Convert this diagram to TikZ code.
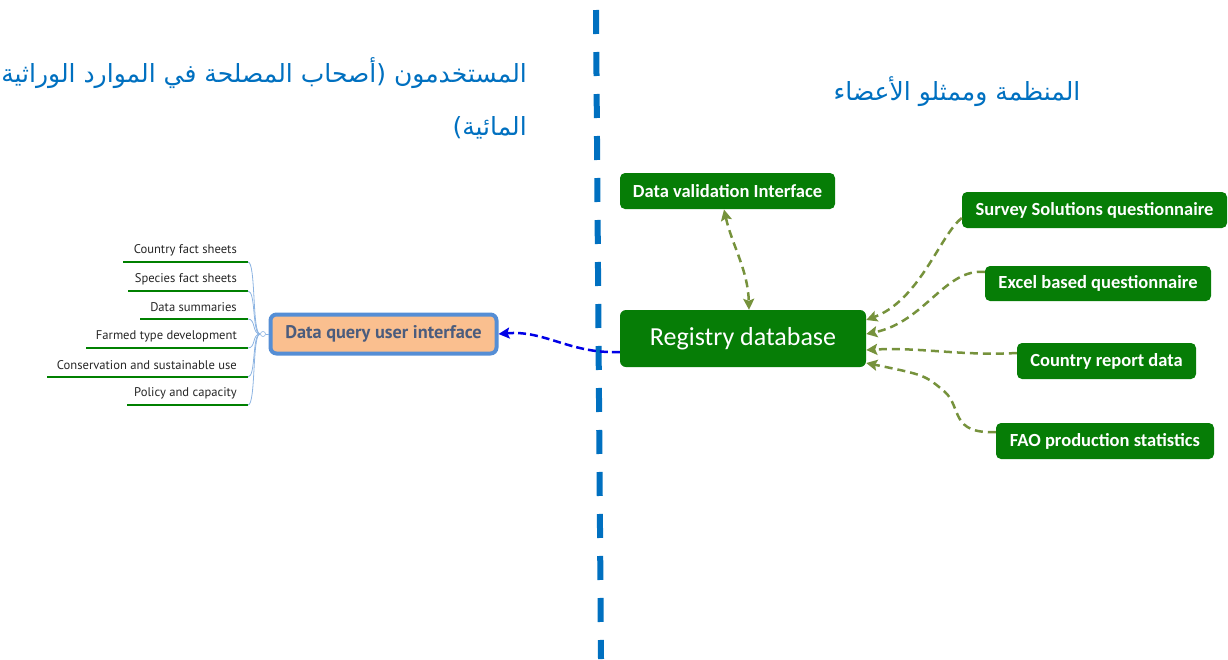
\documentclass[tikz,border=0pt]{standalone}
\usepackage{fontspec}
\usetikzlibrary{arrows.meta,calc}
\TeXXeTstate=1
\newfontfamily\arabicfont[Script=Arabic]{DejaVu Sans}
\newfontfamily\nodefont{Carlito}
\newfontfamily\leaffont{PT Sans}
\definecolor{dgreen}{RGB}{6,125,6}
\definecolor{olive}{RGB}{118,146,60}
\definecolor{vblue}{RGB}{0,112,192}
\definecolor{abblue}{RGB}{0,112,192}
\definecolor{arrblue}{RGB}{0,0,230}
\definecolor{lblue}{RGB}{141,180,226}
\definecolor{dqborder}{RGB}{85,142,213}
\definecolor{dqfill}{RGB}{250,191,143}
\definecolor{dqtext}{RGB}{75,92,125}
\definecolor{lgreen}{RGB}{0,128,0}
\begin{document}
\begin{tikzpicture}[x=1pt,y=-1pt,
  gbox/.style={draw=none,fill=dgreen,rounded corners=5pt,text=white,font=\nodefont\bfseries\fontsize{18.5}{21}\selectfont,inner sep=0pt},
  leaf/.style={anchor=east,font=\leaffont\fontsize{12.6}{15}\selectfont,inner sep=0pt,text=black!85},
  uline/.style={draw=lgreen,line width=2.5pt},
  bcurve/.style={draw=lblue,line width=0.8pt},
  oarrow/.style={draw=olive,line width=2.5pt,dash pattern=on 8pt off 5pt,-{Stealth[length=11pt,width=11pt,inset=2pt]}},
  oarrowb/.style={draw=olive,line width=2.5pt,dash pattern=on 8pt off 5pt,{Stealth[length=11pt,width=11pt,inset=2pt]}-{Stealth[length=11pt,width=11pt,inset=2pt]}},
  atitle/.style={text=abblue,font=\arabicfont\fontsize{25}{30}\selectfont,inner sep=0pt},
]
\useasboundingbox (0,0) rectangle (1228,659);
% vertical divider
\draw[vblue,line width=6pt,dash pattern=on 24pt off 18pt] (596,10) -- (601,659);
% titles
\node[atitle,anchor=east] (t1) at (527,73) {\beginR المستخدمون (أصحاب المصلحة في الموارد الوراثية\endR};
\node[atitle,anchor=east] (t2) at (527,128) {\beginR المائية)\endR};
\node[atitle] (t3) at (957,92) {\beginR المنظمة وممثلو الأعضاء\endR};
% green nodes
\node[gbox,minimum width=215pt,minimum height=36pt] (dv) at (727.5,191) {Data validation Interface};
\node[gbox,minimum width=246pt,minimum height=57pt,font=\nodefont\fontsize{26}{29}\selectfont,rounded corners=6pt] (reg) at (743,338.5) {Registry database};
\node[gbox,minimum width=265pt,minimum height=36pt] (sv) at (1094.5,210) {Survey Solutions questionnaire};
\node[gbox,minimum width=226pt,minimum height=35pt] (ex) at (1098,283.5) {Excel based questionnaire};
\node[gbox,minimum width=179pt,minimum height=36pt] (cr) at (1106.5,361) {Country report data};
\node[gbox,minimum width=218pt,minimum height=36pt] (fao) at (1105,441) {FAO production statistics};
% data query node
\node[draw=dqborder,line width=4pt,fill=dqfill,rounded corners=6pt,minimum width=226pt,minimum height=39pt,inner sep=0pt,text=dqtext,font=\leaffont\bfseries\fontsize{18.3}{21}\selectfont] (dq) at (383.5,334) {Data query user interface};
% leaves
\node[leaf] (l1) at (237,250) {Country fact sheets};
\node[leaf] (l2) at (237,279) {Species fact sheets};
\node[leaf] (l3) at (237,307) {Data summaries};
\node[leaf] (l4) at (237,336) {Farmed type development};
\node[leaf] (l5) at (237,365) {Conservation and sustainable use};
\node[leaf] (l6) at (237,393) {Policy and capacity};
\coordinate (e1) at (248,262);
\coordinate (e2) at (248,291);
\coordinate (e3) at (248,319);
\coordinate (e4) at (248,348);
\coordinate (e5) at (248,377);
\coordinate (e6) at (248,405);
\draw[uline] (123,262) -- (e1);
\draw[uline] (128,291) -- (e2);
\draw[uline] (140,319) -- (e3);
\draw[uline] (86,348) -- (e4);
\draw[uline] (47,377) -- (e5);
\draw[uline] (127,405) -- (e6);
\coordinate (jn) at (260,334);
\foreach \i in {1,...,6} {
  \draw[bcurve] (e\i) .. controls ($(e\i)+(8,0)$) and (252,334) .. (jn);
}
\node[draw=lblue,line width=0.6pt,circle,inner sep=0pt,minimum size=5pt,fill=white] (jc) at (263,334) {};
\draw[bcurve] (jc.east) -- (dq.west);
% blue dashed arrow
\draw[arrblue,line width=2.5pt,dash pattern=on 8pt off 4pt,-{Stealth[length=11pt,width=11pt,inset=2pt]}] ([yshift=-13.5pt]reg.west) .. controls (570,354) and (545,330) .. (dq.east);
% olive arrows
\draw[oarrowb] (724,209.5) .. controls (732,245) and (748,270) .. ([xshift=6pt]reg.north);
\draw[oarrow] ([yshift=-8pt]sv.west) .. controls (940,235) and (920,300) .. ([yshift=18.5pt]reg.east);
\draw[oarrow] ([yshift=11.5pt]ex.west) .. controls (945,268) and (925,322) .. ([yshift=4.5pt]reg.east);
\draw[oarrow] ([yshift=8pt]cr.west) .. controls (960,356) and (920,347) .. ([yshift=-11.5pt]reg.east);
\draw[oarrow] ([yshift=9pt]fao.west) .. controls (950,434) and (962,408) .. (945,392) .. controls (925,375) .. ([yshift=-24.5pt]reg.east);
\end{tikzpicture}
\end{document}
